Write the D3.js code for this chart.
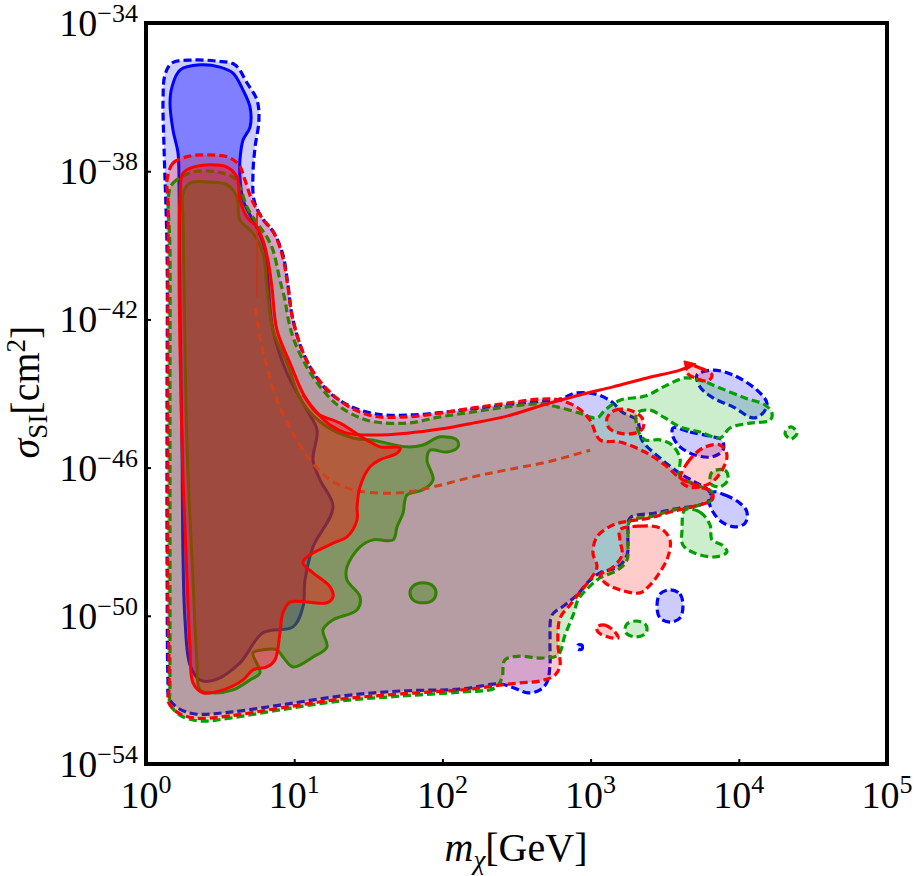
<!DOCTYPE html>
<html><head><meta charset="utf-8">
<script src="https://cdn.jsdelivr.net/npm/d3@7"></script>
<style>body{margin:0;background:#fff}svg{display:block}</style>
</head><body>
<svg id="c" width="917" height="876"></svg>
<script>
// tick exponents
const xTickExp=[0,1,2,3,4,5];
const yTickExp=[-34,-38,-42,-46,-50,-54];
// contour data: [log10(m/GeV), log10(sigma/cm^2)]
const blueOuter=[[0.128,-35.40],[0.175,-35.08],[0.317,-35.00],[0.479,-35.03],[0.601,-35.13],[0.682,-35.62],[0.749,-36.08],[0.762,-36.62],[0.736,-37.35],[0.722,-38.05],[0.729,-38.78],[0.783,-39.26],[0.864,-39.67],[0.924,-40.26],[0.958,-41.07],[0.985,-41.88],[1.053,-42.83],[1.140,-43.50],[1.242,-43.99],[1.377,-44.34],[1.545,-44.55],[1.781,-44.58],[2.018,-44.50],[2.254,-44.39],[2.524,-44.26],[2.794,-44.15],[2.895,-43.99],[3.030,-44.01],[3.144,-44.23],[3.212,-44.50],[3.313,-44.72],[3.347,-45.26],[3.468,-45.74],[3.590,-46.12],[3.704,-46.39],[3.792,-46.60],[3.819,-46.82],[3.738,-47.01],[3.603,-47.09],[3.435,-47.23],[3.266,-47.36],[3.252,-47.82],[3.246,-48.36],[3.185,-48.68],[3.063,-48.84],[2.982,-49.09],[2.915,-49.41],[2.827,-49.71],[2.740,-49.98],[2.726,-50.65],[2.726,-51.33],[2.706,-51.79],[2.659,-52.00],[2.578,-52.08],[2.483,-51.95],[2.389,-51.84],[2.119,-51.98],[1.714,-52.03],[1.309,-52.17],[0.904,-52.41],[0.567,-52.60],[0.331,-52.65],[0.216,-52.49],[0.155,-52.22],[0.148,-51.73],[0.142,-48.22],[0.142,-44.18],[0.142,-40.13],[0.122,-37.43],[0.115,-36.08]];
const blueIsl1=[[3.718,-43.50],[3.826,-43.37],[3.961,-43.50],[4.123,-43.91],[4.190,-44.26],[4.163,-44.53],[4.096,-44.66],[3.961,-44.36],[3.826,-44.12],[3.738,-43.82]];
const blueIsl2=[[3.556,-44.93],[3.671,-45.04],[3.806,-45.15],[3.887,-45.26],[3.893,-45.53],[3.819,-45.71],[3.704,-45.66],[3.603,-45.44],[3.556,-45.17]];
const blueIsl3=[[3.826,-46.66],[3.907,-46.74],[4.008,-46.96],[4.055,-47.20],[4.042,-47.50],[3.974,-47.60],[3.887,-47.47],[3.826,-47.20],[3.799,-46.87]];
const blueIsl4=[[3.536,-49.30],[3.603,-49.41],[3.623,-49.74],[3.603,-50.06],[3.536,-50.17],[3.468,-50.06],[3.448,-49.74],[3.468,-49.41]];
const blueIsl5=[[2.915,-50.79],[2.942,-50.79],[2.942,-50.90],[2.915,-50.90]];
const blueInner=[[0.175,-35.73],[0.229,-35.27],[0.364,-35.13],[0.499,-35.19],[0.587,-35.35],[0.655,-35.81],[0.702,-36.27],[0.702,-36.81],[0.655,-37.16],[0.634,-37.70],[0.634,-38.16],[0.655,-38.78],[0.702,-39.18],[0.756,-39.59],[0.803,-40.13],[0.823,-40.94],[0.857,-42.29],[0.951,-43.45],[1.086,-44.45],[1.154,-44.99],[1.127,-45.80],[1.174,-46.33],[1.262,-47.06],[1.127,-48.14],[1.073,-49.03],[1.059,-49.76],[0.992,-50.30],[0.789,-50.46],[0.634,-51.27],[0.466,-51.73],[0.364,-51.73],[0.297,-51.33],[0.263,-50.11],[0.250,-48.49],[0.243,-45.53],[0.229,-41.48],[0.223,-38.43],[0.216,-37.51],[0.182,-36.89],[0.162,-36.16]];

const greenOuter=[[0.155,-38.59],[0.182,-38.32],[0.317,-38.02],[0.479,-38.02],[0.587,-38.16],[0.634,-38.43],[0.682,-38.97],[0.749,-39.40],[0.816,-39.78],[0.857,-40.13],[0.904,-40.94],[0.938,-41.48],[0.958,-41.96],[0.999,-42.56],[1.086,-43.29],[1.194,-43.91],[1.309,-44.36],[1.491,-44.72],[1.761,-44.80],[1.984,-44.63],[2.206,-44.50],[2.436,-44.36],[2.659,-44.28],[2.773,-44.36],[2.928,-44.53],[3.043,-44.66],[3.097,-44.45],[3.198,-44.18],[3.367,-44.07],[3.502,-43.80],[3.637,-43.58],[3.738,-43.64],[3.873,-43.85],[4.042,-44.12],[4.177,-44.31],[4.224,-44.53],[4.211,-44.72],[4.076,-44.80],[3.941,-44.93],[3.873,-45.20],[3.738,-45.04],[3.603,-44.90],[3.502,-44.66],[3.401,-44.45],[3.313,-44.53],[3.320,-44.99],[3.367,-45.25],[3.468,-45.25],[3.549,-45.39],[3.603,-45.74],[3.603,-46.23],[3.738,-46.50],[3.819,-46.66],[3.819,-46.87],[3.704,-47.04],[3.536,-47.17],[3.401,-47.33],[3.266,-47.44],[3.252,-47.95],[3.246,-48.49],[3.185,-48.76],[3.063,-48.98],[2.982,-49.25],[2.915,-49.57],[2.888,-49.92],[2.827,-50.52],[2.780,-51.06],[2.659,-51.14],[2.524,-51.09],[2.422,-51.19],[2.402,-51.68],[2.355,-51.95],[2.119,-52.06],[1.714,-52.17],[1.309,-52.30],[0.904,-52.54],[0.567,-52.76],[0.364,-52.84],[0.229,-52.68],[0.162,-52.38],[0.162,-52.00],[0.162,-48.22],[0.162,-44.18],[0.162,-40.13]];
const greenIsl1=[[3.819,-46.12],[3.907,-46.07],[3.927,-46.33],[3.873,-46.52],[3.812,-46.44]];
const greenIsl2=[[3.637,-47.14],[3.738,-47.20],[3.806,-47.55],[3.819,-47.95],[3.887,-48.09],[3.920,-48.28],[3.839,-48.41],[3.704,-48.31],[3.623,-48.09],[3.617,-47.68]];
const greenIsl3=[[3.306,-50.14],[3.367,-50.22],[3.381,-50.36],[3.367,-50.49],[3.306,-50.57],[3.246,-50.49],[3.232,-50.36],[3.246,-50.22]];
const greenIsl4=[[4.352,-44.90],[4.393,-45.07],[4.352,-45.23],[4.312,-45.07]];
const greenInner=[[0.250,-38.59],[0.297,-38.32],[0.412,-38.29],[0.547,-38.37],[0.614,-38.70],[0.634,-39.32],[0.722,-39.67],[0.789,-40.21],[0.816,-41.13],[0.857,-42.29],[0.951,-43.18],[1.059,-44.26],[1.221,-44.90],[1.397,-45.20],[1.532,-45.26],[1.761,-45.44],[1.869,-45.39],[1.984,-45.17],[2.099,-45.26],[2.105,-45.44],[2.031,-45.58],[1.916,-45.53],[1.896,-45.80],[1.937,-46.33],[1.869,-46.60],[1.761,-46.74],[1.734,-47.23],[1.694,-47.60],[1.667,-47.95],[1.532,-47.95],[1.444,-48.14],[1.356,-48.68],[1.356,-49.03],[1.444,-49.49],[1.424,-49.84],[1.262,-50.11],[1.194,-50.38],[1.221,-50.84],[1.127,-51.11],[0.992,-51.38],[0.924,-51.11],[0.884,-50.92],[0.789,-50.92],[0.722,-51.00],[0.769,-51.54],[0.702,-51.73],[0.587,-52.00],[0.452,-52.08],[0.364,-52.00],[0.344,-51.27],[0.317,-49.03],[0.277,-45.44],[0.256,-40.94],[0.250,-39.32]];
const greenInnerIsl=[[1.869,-49.11],[1.937,-49.20],[1.957,-49.38],[1.937,-49.57],[1.869,-49.65],[1.802,-49.57],[1.781,-49.38],[1.802,-49.20]];

const redOuter=[[0.142,-38.24],[0.182,-37.78],[0.297,-37.59],[0.412,-37.56],[0.553,-37.62],[0.628,-37.83],[0.668,-38.24],[0.715,-38.78],[0.783,-39.26],[0.864,-39.67],[0.924,-40.34],[0.958,-41.13],[0.992,-42.02],[1.059,-42.88],[1.134,-43.45],[1.228,-43.91],[1.363,-44.34],[1.532,-44.61],[1.761,-44.63],[1.984,-44.53],[2.206,-44.39],[2.436,-44.26],[2.659,-44.15],[2.794,-44.18],[2.915,-44.39],[2.996,-44.72],[3.063,-45.25],[3.198,-45.31],[3.367,-45.58],[3.502,-45.93],[3.603,-46.28],[3.738,-46.52],[3.819,-46.66],[3.819,-46.87],[3.704,-47.04],[3.536,-47.20],[3.401,-47.36],[3.266,-47.44],[3.151,-47.55],[3.043,-47.87],[3.016,-48.31],[3.043,-48.68],[2.996,-49.03],[2.928,-49.36],[2.861,-49.71],[2.794,-50.06],[2.780,-50.79],[2.794,-51.33],[2.760,-51.60],[2.659,-51.76],[2.524,-51.81],[2.389,-51.87],[2.186,-51.98],[1.714,-52.11],[1.309,-52.25],[0.904,-52.49],[0.567,-52.70],[0.331,-52.76],[0.209,-52.60],[0.148,-52.30],[0.155,-52.00],[0.148,-49.57],[0.148,-45.53],[0.148,-41.48],[0.148,-38.78]];
const redIsl1=[[3.657,-43.23],[3.738,-43.31],[3.819,-43.50],[3.792,-43.66],[3.704,-43.58],[3.644,-43.42]];
const redIsl2=[[3.111,-44.66],[3.165,-44.45],[3.266,-44.45],[3.347,-44.66],[3.354,-44.93],[3.300,-45.07],[3.198,-45.07],[3.124,-44.93]];
const redIsl3=[[3.603,-46.33],[3.657,-45.85],[3.758,-45.47],[3.873,-45.39],[3.920,-45.66],[3.887,-46.07],[3.819,-46.39],[3.738,-46.52],[3.657,-46.52]];
const redIsl4=[[3.198,-47.68],[3.333,-47.58],[3.468,-47.63],[3.536,-47.95],[3.522,-48.41],[3.468,-48.82],[3.401,-49.17],[3.333,-49.38],[3.198,-49.30],[3.097,-49.11],[3.063,-48.90],[3.144,-48.71],[3.212,-48.36],[3.198,-47.95]];
const redIsl5=[[3.043,-50.30],[3.097,-50.25],[3.165,-50.44],[3.185,-50.60],[3.117,-50.57],[3.050,-50.44]];
const redInner=[[0.229,-38.78],[0.250,-38.05],[0.317,-37.89],[0.412,-37.83],[0.547,-37.89],[0.614,-38.16],[0.634,-38.78],[0.682,-39.24],[0.749,-39.51],[0.789,-39.86],[0.823,-40.40],[0.850,-41.13],[0.884,-42.29],[0.972,-43.18],[1.059,-43.99],[1.154,-44.53],[1.309,-44.80],[1.491,-45.26],[1.579,-45.44],[1.714,-45.47],[1.694,-45.61],[1.579,-45.79],[1.511,-45.98],[1.444,-46.52],[1.424,-47.06],[1.424,-47.41],[1.356,-47.87],[1.262,-48.04],[1.086,-48.41],[1.059,-48.58],[1.127,-48.84],[1.242,-49.22],[1.262,-49.49],[1.221,-49.65],[1.086,-49.63],[0.972,-49.63],[0.924,-49.92],[0.904,-50.46],[0.870,-51.19],[0.816,-51.38],[0.722,-51.46],[0.655,-51.73],[0.520,-52.00],[0.385,-52.08],[0.317,-51.81],[0.297,-50.84],[0.277,-49.03],[0.250,-46.33],[0.229,-42.75],[0.223,-40.40]];
const redSliver=[[1.059,-44.04],[1.140,-44.45],[1.242,-44.85],[1.356,-45.07],[1.532,-45.12],[1.761,-45.07],[1.984,-44.96],[2.206,-44.80],[2.436,-44.61],[2.706,-44.28],[2.928,-44.04],[3.151,-43.82],[3.381,-43.58],[3.603,-43.37],[3.691,-43.23]];
const redSliverTip=[[3.630,-43.12],[3.711,-43.20],[3.644,-43.37]];
const limitCurve=[[0.736,-41.69],[0.769,-42.48],[0.816,-43.28],[0.884,-44.18],[0.992,-45.07],[1.107,-45.79],[1.242,-46.33],[1.397,-46.60],[1.579,-46.69],[1.761,-46.66],[1.937,-46.52],[2.206,-46.25],[2.436,-46.06],[2.706,-45.85],[2.996,-45.53]];
const limitEdge=[[0.749,-39.13],[0.749,-41.40]];

const svg=d3.select("#c");
const x=d3.scaleLog().domain([1,1e5]).range([146,887]);
const y=d3.scaleLog().domain([1e-54,1e-34]).range([764,23]);
const px=d=>x(Math.pow(10,d[0])), py=d=>y(Math.pow(10,d[1]));
const closed=d3.line().x(px).y(py).curve(d3.curveCatmullRomClosed.alpha(0.5));
const open=d3.line().x(px).y(py).curve(d3.curveCatmullRom.alpha(0.5));
const lin=d3.line().x(px).y(py);

const defs=svg.append("defs");
defs.append("clipPath").attr("id","clip").append("rect")
  .attr("x",146).attr("y",23).attr("width",741).attr("height",741);
const g=svg.append("g").attr("clip-path","url(#clip)");

const layers=[
 {outer:[blueOuter,blueIsl1,blueIsl2,blueIsl3,blueIsl4,blueIsl5],inner:[blueInner],
  col:"rgb(0,0,255)",so:"#0000ff",si:"#0000ff"},
 {outer:[greenOuter,greenIsl1,greenIsl2,greenIsl3,greenIsl4],inner:[greenInner,greenInnerIsl],
  col:"rgb(0,170,0)",so:"#00a000",si:"#00a000"},
 {outer:[redOuter,redIsl1,redIsl2,redIsl3,redIsl4,redIsl5],inner:[redInner],
  col:"rgb(255,0,0)",so:"#ff0000",si:"#ff0000"}
];
layers.forEach((L,i)=>{
  const m=defs.append("mask").attr("id","m"+i).attr("maskUnits","userSpaceOnUse")
    .attr("x",0).attr("y",0).attr("width",917).attr("height",876);
  m.append("rect").attr("width",917).attr("height",876).attr("fill","#fff");
  L.inner.forEach(p=>m.append("path").attr("d",closed(p)).attr("fill","#000"));
  const og=g.append("g").attr("mask","url(#m"+i+")");
  L.outer.forEach(p=>og.append("path").attr("d",closed(p)).attr("fill",L.col).attr("fill-opacity",0.2).attr("stroke","none"));
  L.inner.forEach(p=>g.append("path").attr("d",closed(p)).attr("fill",L.col).attr("fill-opacity",0.5).attr("stroke","none"));
  if(i===2){
    g.append("path").attr("d",open(limitCurve)).attr("fill","none").attr("stroke","#d0401a")
      .attr("stroke-width",3).attr("stroke-dasharray","8,5");
    g.append("path").attr("d",lin(limitEdge)).attr("fill","none").attr("stroke","#c03a1a").attr("stroke-width",2);
  }
  L.outer.forEach(p=>g.append("path").attr("d",closed(p)).attr("fill","none").attr("stroke",L.so)
     .attr("stroke-width",3.2).attr("stroke-dasharray","8,4"));
  L.inner.forEach(p=>g.append("path").attr("d",closed(p)).attr("fill","none").attr("stroke",L.si)
     .attr("stroke-width",3));
  if(i===2){
    g.append("path").attr("d",open(redSliver)).attr("fill","none").attr("stroke","#ff0000").attr("stroke-width",3);
    g.append("path").attr("d",lin(redSliverTip)+"Z").attr("fill","#ff0000").attr("stroke","#ff0000").attr("stroke-width",1);
  }
});

// axes ticks
const xa=svg.append("g").attr("transform","translate(0,764)")
  .call(d3.axisBottom(x).tickValues(xTickExp.map(e=>Math.pow(10,e))).tickSize(-5).tickFormat(""));
const ya=svg.append("g").attr("transform","translate(146,0)")
  .call(d3.axisLeft(y).tickValues(yTickExp.map(e=>Math.pow(10,e))).tickSize(-5).tickFormat(""));
[xa,ya].forEach(a=>{a.select(".domain").remove();a.selectAll("line").attr("stroke","#000").attr("stroke-width",2);});

// frame
svg.append("rect").attr("x",146).attr("y",23).attr("width",741).attr("height",741)
  .attr("fill","none").attr("stroke","#000").attr("stroke-width",4);

const FF='"Liberation Serif","Times New Roman",serif';
const minus="\u2212";
xTickExp.forEach(e=>{
  const t=svg.append("text").attr("x",x(Math.pow(10,e))).attr("y",808)
    .attr("text-anchor","middle").attr("font-family",FF).attr("font-size",38).attr("fill","#000");
  t.append("tspan").text("10");
  t.append("tspan").attr("font-size",26).attr("dy",-15).text(String(e).replace("-",minus));
});
yTickExp.forEach(e=>{
  const t=svg.append("text").attr("x",138).attr("y",y(Math.pow(10,e))+13)
    .attr("text-anchor","end").attr("font-family",FF).attr("font-size",38).attr("fill","#000");
  t.append("tspan").text("10");
  t.append("tspan").attr("font-size",26).attr("dy",-14).text(String(e).replace("-",minus));
});

// axis titles
const xt=svg.append("text").attr("x",516).attr("y",861).attr("text-anchor","middle")
  .attr("font-family",FF).attr("font-size",40).attr("fill","#000");
xt.append("tspan").attr("font-style","italic").text("m");
xt.append("tspan").attr("font-style","italic").attr("font-size",27).attr("dy",8).text("\u03C7");
xt.append("tspan").attr("dy",-8).text("[GeV]");

const yt=svg.append("text").attr("transform","translate(39,392) rotate(-90)").attr("text-anchor","middle")
  .attr("font-family",FF).attr("font-size",40).attr("fill","#000");
yt.append("tspan").attr("font-style","italic").text("\u03C3");
yt.append("tspan").attr("font-size",27).attr("dy",8).text("SI");
yt.append("tspan").attr("dy",-8).text("[cm");
yt.append("tspan").attr("font-size",27).attr("dy",-14).text("2");
yt.append("tspan").attr("dy",14).text("]");
</script>
</body></html>
